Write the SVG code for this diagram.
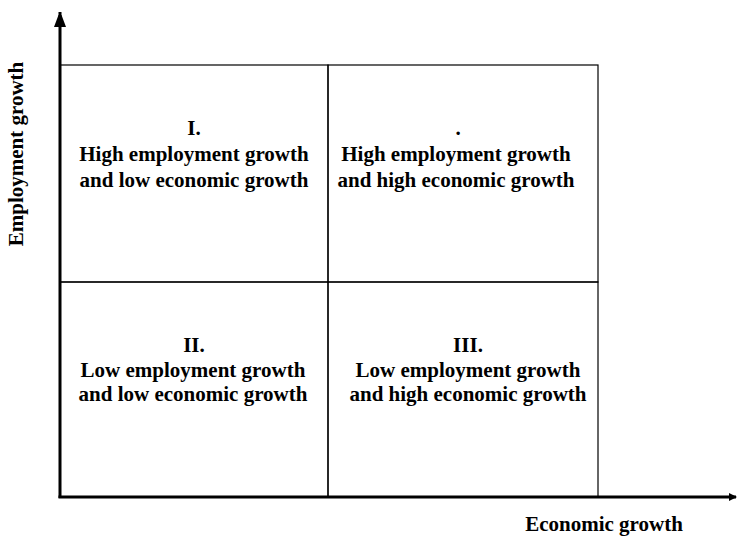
<svg xmlns="http://www.w3.org/2000/svg" width="742" height="537" viewBox="0 0 742 537">
<style>
.t{font-family:"Liberation Serif","Times New Roman",serif;font-weight:bold;font-size:21px;fill:#000;text-anchor:middle}
.box{fill:none;stroke:#000;stroke-width:1.2}
.axis{fill:none;stroke:#000;stroke-width:3}
</style>
<defs>
<marker id="ah" markerWidth="8" markerHeight="8" refX="7" refY="4" orient="auto" markerUnits="userSpaceOnUse">
<path d="M0,0 L8,4 L0,8 Z" fill="#000"/>
</marker>
<marker id="av" markerWidth="12" markerHeight="16" refX="15" refY="6" orient="auto" markerUnits="userSpaceOnUse">
<path d="M0,0 L16,6 L0,12 Z" fill="#000"/>
</marker>
</defs>
<rect width="742" height="537" fill="#fff"/>
<g id="quadrants">
<g id="q1"><rect class="box" x="60" y="65" width="268" height="217"/>
<text class="t" x="194" y="135">I.</text>
<text class="t" x="194" y="161">High employment growth</text>
<text class="t" x="194" y="187">and low economic growth</text></g>
<g id="q4"><rect class="box" x="328" y="65" width="270" height="217"/>
<text class="t" x="458" y="135">.</text>
<text class="t" x="456" y="161">High employment growth</text>
<text class="t" x="456" y="187">and high economic growth</text></g>
<g id="q2"><rect class="box" x="60" y="282" width="268" height="215"/>
<text class="t" x="194" y="352">II.</text>
<text class="t" x="193" y="377">Low employment growth</text>
<text class="t" x="193" y="401">and low economic growth</text></g>
<g id="q3"><rect class="box" x="328" y="282" width="270" height="215"/>
<text class="t" x="468" y="352">III.</text>
<text class="t" x="468" y="377">Low employment growth</text>
<text class="t" x="468" y="401">and high economic growth</text></g>
</g>
<g id="connectors">
<line class="axis" x1="60" y1="498" x2="60" y2="12" marker-end="url(#av)"/>
<line class="axis" x1="58.5" y1="497" x2="736" y2="497" marker-end="url(#ah)"/>
</g>
<g id="labels">
<text class="t" transform="translate(23,154) rotate(-90)">Employment growth</text>
<text class="t" x="604" y="531">Economic growth</text>
</g>
</svg>
